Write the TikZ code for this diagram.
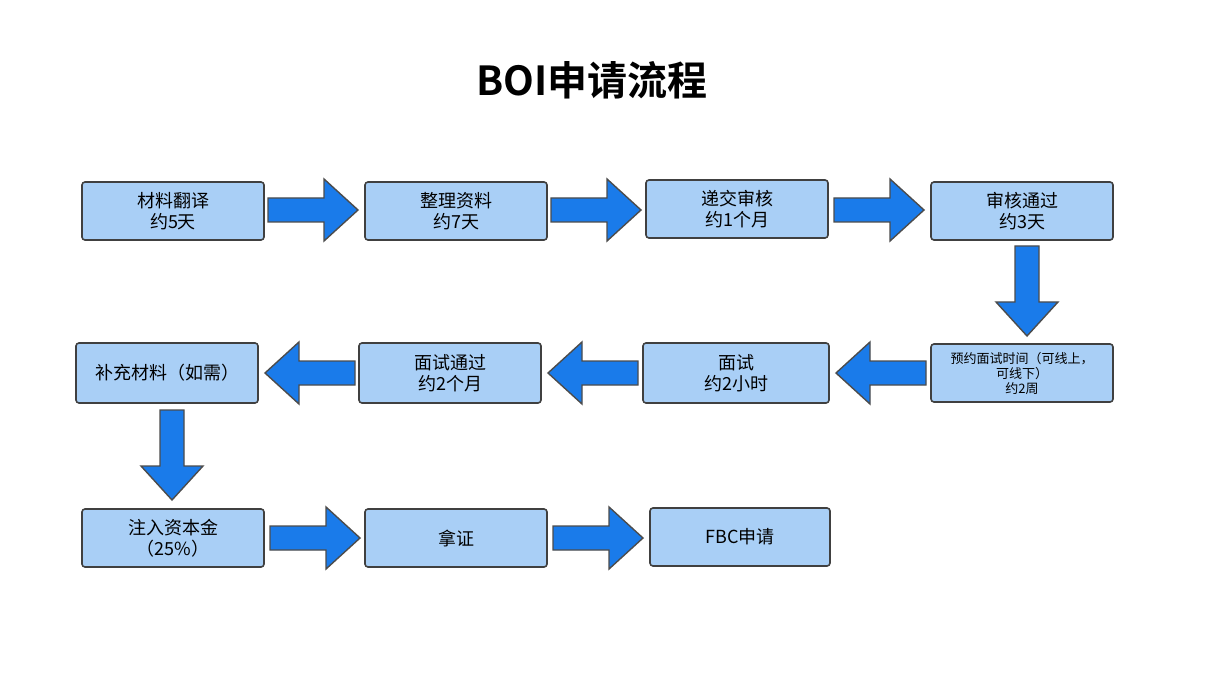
\documentclass[tikz,border=0pt]{standalone}
\usepackage{fontspec}
\setmainfont{Noto Sans CJK SC}
\newfontfamily\titlefont[BoldFont={Noto Sans CJK SC Bold}]{Noto Sans CJK SC}
\begin{document}
\begin{tikzpicture}[x=0.5pt,y=-0.5pt,
  box/.style={draw=black!75,line width=0.8pt,fill=boxblue,rounded corners=1.5pt,minimum width=91pt,minimum height=29pt,align=center,font=\fontsize{9}{10.5}\selectfont,inner sep=1pt},
  barrow/.style={fill=arrowblue,draw=black!70,line width=0.7pt,line join=miter}]
\definecolor{boxblue}{HTML}{A9CFF6}
\definecolor{arrowblue}{HTML}{1A7BEA}
\useasboundingbox[fill=white] (0,0) rectangle (1224,689);
\newcommand\blockarrow[2]{\begin{scope}[shift={(#1)},rotate=#2]
  \path[barrow] (0,-12) -- (56,-12) -- (56,-31) -- (90,0) -- (56,31) -- (56,12) -- (0,12) -- cycle;
\end{scope}}
\node[font=\titlefont\bfseries\fontsize{20}{24}\selectfont] (title) at (592,80) {BOI申请流程};
\node[box] (a1) at (173,211) {材料翻译\\约5天};
\node[box] (a2) at (456,211) {整理资料\\约7天};
\node[box] (a3) at (737,209) {递交审核\\约1个月};
\node[box] (a4) at (1022,211) {审核通过\\约3天};
\node[box,font=\fontsize{6.5}{7.5}\selectfont] (b1) at (1022,373) {预约面试时间（可线上，\\可线下）\\约2周};
\node[box,minimum width=93pt,minimum height=30pt] (b2) at (736,373) {面试\\约2小时};
\node[box,minimum height=30pt] (b3) at (450,373) {面试通过\\约2个月};
\node[box,minimum height=30pt] (b4) at (167,373) {补充材料（如需）};
\node[box] (c1) at (173,538) {注入资本金\\（25\%）};
\node[box] (c2) at (456,538) {拿证};
\node[box,minimum width=90pt] (c3) at (740,537) {FBC申请};
\blockarrow{268,210}{0}
\blockarrow{551,210}{0}
\blockarrow{834,210}{0}
\blockarrow{1027,246}{-90}
\blockarrow{926,373}{180}
\blockarrow{638,373}{180}
\blockarrow{355,373}{180}
\blockarrow{172,410}{-90}
\blockarrow{270,538}{0}
\blockarrow{553,538}{0}
\end{tikzpicture}
\end{document}
